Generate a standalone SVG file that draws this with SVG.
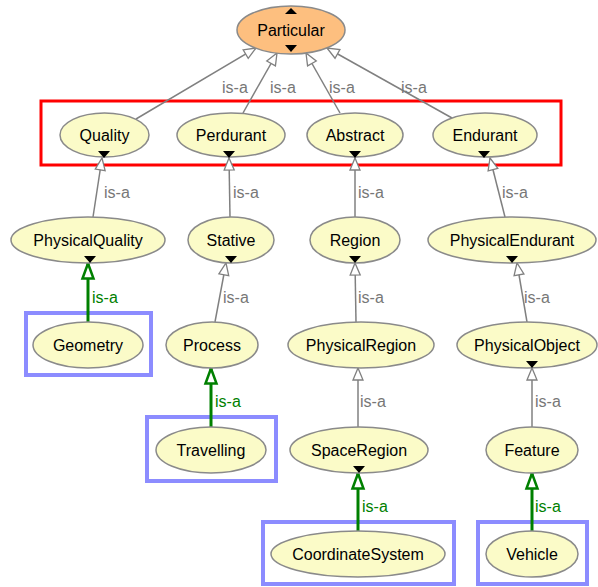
<svg xmlns="http://www.w3.org/2000/svg" width="598" height="587" viewBox="0 0 598 587">
  <style>
    .node ellipse { fill: #fbfbc8; stroke: #8a8a8a; stroke-width: 1.5; }
    .root ellipse { fill: #fdbf7f; }
    .node text { font-family: "Liberation Sans", Arial, sans-serif; font-size: 16px; fill: #000; text-anchor: middle; }
    .tri { fill: #000; }
    .edge { stroke: #808080; stroke-width: 1.5; fill: none; marker-end: url(#hollow); }
    .edge-hl { stroke: #008000; stroke-width: 3; fill: none; marker-end: url(#hollowGreen); }
    .lbl { font-family: "Liberation Sans", Arial, sans-serif; font-size: 16px; fill: #777; }
    .lbl-hl { font-family: "Liberation Sans", Arial, sans-serif; font-size: 16px; fill: #008000; }
    .frame-red { fill: none; stroke: #ff0000; stroke-width: 3; }
    .frame-blue { fill: none; stroke: #8c8cff; stroke-width: 4; }
  </style>
  <defs>
    <marker id="hollow" viewBox="0 0 14 12" refX="13" refY="6" markerWidth="14" markerHeight="12" markerUnits="userSpaceOnUse" orient="auto" overflow="visible">
      <path d="M1,1 L13,6 L1,11 Z" fill="#fff" stroke="#808080" stroke-width="1.3"/>
    </marker>
    <marker id="hollowGreen" viewBox="0 0 18 14" refX="17" refY="7" markerWidth="18" markerHeight="14" markerUnits="userSpaceOnUse" orient="auto" overflow="visible">
      <path d="M1.5,1.5 L16.5,7 L1.5,12.5 Z" fill="#fff" stroke="#008000" stroke-width="2.5"/>
    </marker>
  </defs>

  <!-- highlight frames -->
  <rect class="frame-red" x="41" y="101" width="520" height="64"/>
  <rect class="frame-blue" x="26" y="313" width="125" height="62"/>
  <rect class="frame-blue" x="147" y="417" width="129" height="64"/>
  <rect class="frame-blue" x="263" y="522" width="191" height="62"/>
  <rect class="frame-blue" x="478" y="522" width="109" height="62"/>

  <!-- connectors -->
  <g id="edges">
    <line class="edge" x1="136" y1="119" x2="256" y2="48"/>
    <line class="edge" x1="243" y1="113" x2="277" y2="53"/>
    <line class="edge" x1="340" y1="113" x2="306" y2="53"/>
    <line class="edge" x1="452" y1="118" x2="327" y2="48"/>

    <line class="edge" x1="93" y1="217" x2="102" y2="158"/>
    <line class="edge" x1="230" y1="217" x2="229" y2="158"/>
    <line class="edge" x1="355" y1="217" x2="355" y2="158"/>
    <line class="edge" x1="505" y1="217" x2="490" y2="158"/>

    <line class="edge-hl" x1="88" y1="322" x2="88" y2="263"/>
    <line class="edge" x1="215" y1="322" x2="226" y2="263"/>
    <line class="edge" x1="356" y1="322" x2="355" y2="263"/>
    <line class="edge" x1="527" y1="322" x2="517" y2="263"/>

    <line class="edge-hl" x1="211" y1="427" x2="211" y2="368"/>
    <line class="edge" x1="358" y1="427" x2="358" y2="368"/>
    <line class="edge" x1="532" y1="427" x2="532" y2="368"/>

    <line class="edge-hl" x1="358" y1="532" x2="358" y2="473"/>
    <line class="edge-hl" x1="532" y1="532" x2="532" y2="473"/>

    <text class="lbl" x="222" y="93">is-a</text>
    <text class="lbl" x="270" y="93">is-a</text>
    <text class="lbl" x="329" y="93">is-a</text>
    <text class="lbl" x="401" y="93">is-a</text>

    <text class="lbl" x="104" y="198">is-a</text>
    <text class="lbl" x="233" y="198">is-a</text>
    <text class="lbl" x="358" y="198">is-a</text>
    <text class="lbl" x="502" y="198">is-a</text>

    <text class="lbl-hl" x="92" y="303">is-a</text>
    <text class="lbl" x="223" y="303">is-a</text>
    <text class="lbl" x="358" y="303">is-a</text>
    <text class="lbl" x="524" y="303">is-a</text>

    <text class="lbl-hl" x="215" y="407">is-a</text>
    <text class="lbl" x="360" y="407">is-a</text>
    <text class="lbl" x="535" y="407">is-a</text>

    <text class="lbl-hl" x="362" y="512">is-a</text>
    <text class="lbl-hl" x="535" y="512">is-a</text>
  </g>

  <!-- nodes -->
  <g id="Particular" class="node root">
    <ellipse cx="291" cy="30" rx="54" ry="24"/>
    <text x="291" y="36">Particular</text>
    <path class="tri" d="M285,14 L297,14 L291,8 Z"/>
    <path class="tri" d="M285,45 L297,45 L291,52 Z"/>
  </g>

  <g id="Quality" class="node">
    <ellipse cx="104.5" cy="135" rx="44.5" ry="22"/>
    <text x="104.5" y="141">Quality</text>
    <path class="tri" d="M98,151 L110,151 L104,158 Z"/>
  </g>
  <g id="Perdurant" class="node">
    <ellipse cx="231" cy="135" rx="54" ry="22"/>
    <text x="231" y="141">Perdurant</text>
    <path class="tri" d="M223,151 L235,151 L229,158 Z"/>
  </g>
  <g id="Abstract" class="node">
    <ellipse cx="355" cy="135" rx="48" ry="22"/>
    <text x="355" y="141">Abstract</text>
    <path class="tri" d="M349,151 L361,151 L355,158 Z"/>
  </g>
  <g id="Endurant" class="node">
    <ellipse cx="485" cy="135" rx="52" ry="22"/>
    <text x="485" y="141">Endurant</text>
    <path class="tri" d="M478,151 L490,151 L484,158 Z"/>
  </g>

  <g id="PhysicalQuality" class="node">
    <ellipse cx="88" cy="240" rx="77" ry="23"/>
    <text x="88" y="246">PhysicalQuality</text>
    <path class="tri" d="M84,256 L96,256 L90,263 Z"/>
  </g>
  <g id="Stative" class="node">
    <ellipse cx="231" cy="240" rx="43" ry="23"/>
    <text x="231" y="246">Stative</text>
    <path class="tri" d="M225,256 L237,256 L231,263 Z"/>
  </g>
  <g id="Region" class="node">
    <ellipse cx="355" cy="240" rx="45" ry="23"/>
    <text x="355" y="246">Region</text>
    <path class="tri" d="M349,256 L361,256 L355,263 Z"/>
  </g>
  <g id="PhysicalEndurant" class="node">
    <ellipse cx="512" cy="240" rx="84" ry="23"/>
    <text x="512" y="246">PhysicalEndurant</text>
    <path class="tri" d="M506,256 L518,256 L512,263 Z"/>
  </g>

  <g id="Geometry" class="node">
    <ellipse cx="88" cy="345" rx="55" ry="23"/>
    <text x="88" y="351">Geometry</text>
  </g>
  <g id="Process" class="node">
    <ellipse cx="212" cy="345" rx="46" ry="23"/>
    <text x="212" y="351">Process</text>
  </g>
  <g id="PhysicalRegion" class="node">
    <ellipse cx="361" cy="345" rx="73" ry="23"/>
    <text x="361" y="351">PhysicalRegion</text>
  </g>
  <g id="PhysicalObject" class="node">
    <ellipse cx="527" cy="345" rx="70" ry="23"/>
    <text x="527" y="351">PhysicalObject</text>
    <path class="tri" d="M526,361 L538,361 L532,368 Z"/>
  </g>

  <g id="Travelling" class="node">
    <ellipse cx="211" cy="450" rx="55" ry="23"/>
    <text x="211" y="456">Travelling</text>
  </g>
  <g id="SpaceRegion" class="node">
    <ellipse cx="359" cy="450" rx="69" ry="23"/>
    <text x="359" y="456">SpaceRegion</text>
    <path class="tri" d="M353,466 L365,466 L359,473 Z"/>
  </g>
  <g id="Feature" class="node">
    <ellipse cx="532" cy="450" rx="46" ry="23"/>
    <text x="532" y="456">Feature</text>
  </g>

  <g id="CoordinateSystem" class="node">
    <ellipse cx="358" cy="554" rx="87" ry="23"/>
    <text x="358" y="560">CoordinateSystem</text>
  </g>
  <g id="Vehicle" class="node">
    <ellipse cx="532" cy="554" rx="46" ry="23"/>
    <text x="532" y="560">Vehicle</text>
  </g>
</svg>
